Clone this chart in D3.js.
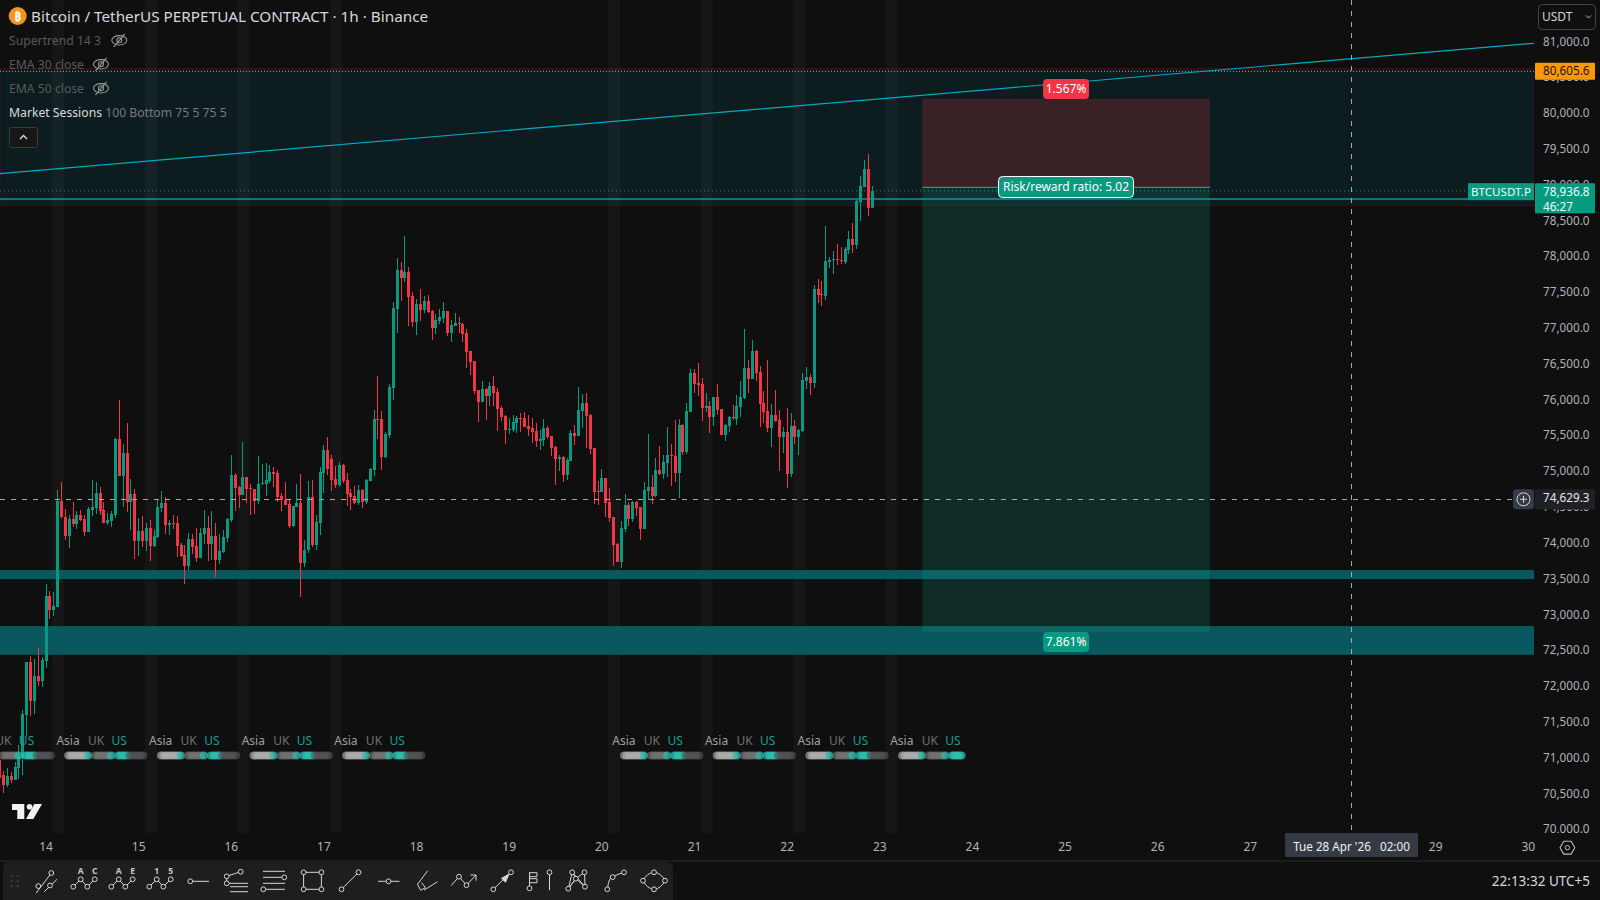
<!DOCTYPE html>
<html>
<head>
<meta charset="utf-8">
<title>BTCUSDT.P 1h</title>
<script src="https://cdn.jsdelivr.net/npm/d3@7"></script>
<style>
  html, body { margin: 0; padding: 0; background: #0f0f0f; overflow: hidden; }
  svg { display: block; }
  text { font-family: "Noto Sans", sans-serif; }
</style>
</head>
<body>
<svg id="chart" width="1600" height="900"></svg>
<script>
// hourly candles, first one is 13 Apr 12:00
const firstBar = Date.UTC(2026, 3, 13, 12)

const opens = [
  70988,70778,70639,70765,70709,70872,71011,71616,72357,71817,72161,72091,72375,73278,73083,73129,
  74605,74381,74116,74353,74283,74409,74353,74172,74479,74507,74716,74479,74297,74325,74409,75470,74954,75275,74591,74702,74046,74186,74046,74227,73976,74102,74507,74577,74269,74297,74297,73990,
  73850,73697,74074,73976,73808,74144,74227,74004,74116,73781,73892,74088,74339,74968,74800,74688,74940,74786,74772,74605,74842,74842,74884,75009,74996,74674,74618,74563,74255,74521,
  74577,73739,73920,74660,73990,74297,74996,75317,75191,74912,74828,75107,74898,74716,74674,74577,74758,74591,74884,75037,
  75750,75750,75219,75526,76183,77286,77830,77719,77802,77467,77104,77356,77272,77397,77258,77020,77123,77160,77258,76951,77048,77090,77076,76951,76699,76560,76155,75987,76169,76071,76210,76127,75903,75792,75596,75596,75694,75764,75764,75652,75624,75582,75442,75456,75624,75512,75359,75191,75219,74968,75163,75554,75512,75861,
  75973,75806,75345,74744,74730,74926,74591,74381,74004,73753,74214,74549,74353,74591,74521,74214,74744,74800,74674,75038,74982,75135,75247,75233,74996,75666,75289,75848,76392,76253,76239,75903,75931,75778,76057,75889,75526,75652,75778,75750,75917,76043,76462,76308,76699,76406,75973,75862,75624,75806,75736,75498,75568,74982,75652,75498,75582,76280,76336,76253,77565,77495,77467,77942,77970,77984,77970,77942,78110,78263,78180,78780,78990,79241,78696
]
const closes = [
  70732,70639,70765,70709,70886,71044,71630,72357,71817,72161,72091,72384,73278,73083,73139,74605,
  74381,74116,74353,74283,74409,74339,74172,74493,74521,74716,74465,74297,74339,74423,75470,74954,75275,74591,74702,74046,74186,74046,74227,73976,74116,74521,74577,74269,74297,74283,73976,73836,
  73697,74074,73962,73808,74158,74227,74004,74116,73781,73906,74102,74353,74968,74786,74688,74940,74772,74772,74605,74842,74856,74898,75009,74982,74660,74618,74549,74255,74535,74577,
  73739,73920,74660,73990,74311,75009,75317,75051,74898,74828,75107,74884,74702,74660,74577,74758,74591,74898,75051,75750,
  75736,75219,75540,76196,77300,77830,77719,77802,77453,77104,77356,77272,77397,77244,77020,77132,77174,77258,76951,77062,77090,77076,76937,76685,76546,76141,75987,76169,76071,76210,76113,75889,75778,75596,75610,75708,75764,75750,75638,75610,75568,75442,75470,75624,75498,75345,75191,75219,74968,75177,75554,75512,75875,75973,
  75792,75331,74730,74730,74926,74577,74367,73990,73753,74228,74549,74353,74591,74507,74214,74758,74800,74674,75038,74982,75149,75247,75233,74996,75666,75289,75862,76392,76239,76225,75903,75931,75778,76057,75875,75526,75666,75778,75764,75931,76057,76462,76308,76699,76392,75959,75848,75624,75806,75722,75498,75568,74982,75652,75498,75596,76294,76336,76253,77565,77481,77481,77956,77970,77984,77970,77956,78124,78263,78180,78794,79004,79241,78696,78936.8
]
const highs = [
  70988,70834,70872,70825,70965,71197,71686,72357,72440,72398,72547,72422,73446,73348,73329,74758,
  74870,74493,74409,74591,74465,74479,74409,74521,74898,74870,74800,74591,74437,74465,75484,76015,75400,75694,74912,74772,74367,74395,74297,74339,74199,74618,74744,74660,74339,74409,74395,74018,
  73990,74158,74144,74227,74227,74479,74395,74465,74297,74144,74199,74367,75247,74996,74814,75428,74940,74842,74772,75233,75121,75135,75107,75079,75037,74716,74870,74618,74535,74842,
  74982,74060,74884,74898,74409,75079,75387,75498,75247,75093,75149,75121,74996,74772,74814,74828,74772,74912,75065,75875,
  76350,75861,75568,76238,77384,77998,77942,78305,77872,77523,77425,77565,77467,77481,77272,77216,77286,77384,77258,77132,77230,77174,77090,77006,76699,76560,76155,76280,76183,76266,76350,76183,75931,75805,75764,75805,75792,75833,75847,75805,75764,75694,75596,75750,75652,75512,75373,75247,75233,75205,75596,75666,76196,76099,
  76113,75820,75345,74884,75051,74926,74786,74381,74018,74325,74702,74591,74605,74605,74521,74870,75540,74968,75205,75373,75247,75638,75401,75736,75750,75680,75973,76448,76448,76532,76322,76113,76001,76057,76239,75889,75680,75792,75945,76085,76280,77007,76574,76853,76713,76490,76141,76574,75959,76155,75875,75638,75903,75834,75736,75610,76392,76476,76378,77621,77705,77677,78445,78012,78096,78194,78152,78152,78375,78487,78808,79143,79367,79450,79004
]
const lows = [
  70662,70532,70616,70662,70709,70718,70779,71328,71607,71630,72026,72012,72268,72957,73004,73129,
  74367,74060,73948,74241,74213,74325,74116,74172,74395,74423,74409,74297,74269,74241,74367,74954,74521,74451,74199,73794,73836,73962,73906,73767,73962,74088,74451,74144,74130,74213,73822,73822,
  73445,73641,73864,73753,73808,74004,73767,73781,73543,73725,73878,74032,74311,74465,74507,74688,74577,74409,74423,74563,74828,74674,74856,74800,74591,74465,74549,74227,74241,74521,
  73264,73687,73874,73967,73920,74130,74716,74968,74744,74786,74800,74856,74535,74479,74563,74549,74507,74563,74884,74954,
  75470,75037,75205,75484,76015,76951,77397,77663,77048,77034,76923,77118,77230,77230,76853,76937,77076,77090,76909,76825,77048,76951,76825,76462,76364,76099,75708,75987,75736,75931,75931,75582,75722,75400,75540,75568,75554,75568,75638,75512,75414,75359,75317,75373,75470,75233,74828,75023,74870,74898,75163,75387,75512,75624,
  75345,75261,74563,74549,74730,74381,74311,73697,73753,73669,74172,74255,74311,74395,74060,74214,74619,74563,74661,74968,74912,74940,74814,74870,74646,75247,75261,75848,76113,76071,75722,75848,75554,75652,75806,75526,75443,75568,75736,75666,75778,76029,76113,76308,76280,75638,75694,75568,75359,75708,75024,75275,74786,74940,75401,75247,75568,76169,76085,76183,77370,77328,77412,77858,77775,77900,77914,77914,78054,78068,78124,78515,78990,78585,78696
]

const priceTicks = d3.range(70000, 81001, 500)
const dayTicks = d3.range(14, 31).map(d => new Date(Date.UTC(2026, 3, d)))
const sessionDays = [13, 14, 15, 16, 17, 20, 21, 22, 23]
const stripeDays = [14, 15, 16, 17, 20, 21, 22, 23]

const lastPrice = 78936.8
const alertPrice = 80605.6
const crossPrice = 74629.3
const crossTime = new Date(Date.UTC(2026, 3, 28, 2))

// drawn zones, price levels
const topZone = [78730, 80645]
const midLine = 78823
const lowerBands = [[73515, 73641], [72458, 72859]]
const trendPrices = [79178, 81000]
const trendTimes = [new Date(firstBar), new Date(Date.UTC(2026, 3, 30, 2))]

// long position tool
const entry = 78986, stop = 80224, target = 72777
const toolTimes = [new Date(Date.UTC(2026, 3, 23, 11)), new Date(Date.UTC(2026, 3, 26, 13, 30))]

const upColor = '#089981'
const downColor = '#f23645'
const axisText = '#b0b3b8'
const plotRight = 1534
const plotBottom = 833

const svg = d3.select('#chart')
const x = d3.scaleUtc()
  .domain([dayTicks[0], dayTicks[dayTicks.length - 1]])
  .range([46, 1528.3])
const y = d3.scaleLinear().domain([70000, 81000]).range([830.8, 43.1])
const hour = 3600 * 1000
const dayAt = d => new Date(Date.UTC(2026, 3, d))

const bars = opens.map((o, i) => ({
  t: new Date(firstBar + i * hour), o, c: closes[i], h: highs[i], l: lows[i]
}))

const defs = svg.append('defs')
defs.append('clipPath').attr('id', 'plot').append('rect')
  .attr('width', plotRight).attr('height', plotBottom)
defs.append('clipPath').attr('id', 'pricePane').append('rect')
  .attr('x', plotRight).attr('width', 66).attr('height', plotBottom)

const plot = svg.append('g').attr('clip-path', 'url(#plot)')

// session stripes
plot.append('g').selectAll('rect').data(stripeDays).enter().append('rect')
  .attr('x', d => x(new Date(dayAt(d).getTime() + 1.6 * hour)))
  .attr('width', 12)
  .attr('y', 0).attr('height', plotBottom)
  .attr('fill', 'rgba(255,255,255,0.03)')

// big zone at the top
plot.append('rect')
  .attr('x', 0).attr('width', plotRight)
  .attr('y', y(topZone[1])).attr('height', y(topZone[0]) - y(topZone[1]))
  .attr('fill', 'rgba(0,188,212,0.08)')
  .attr('stroke', 'rgba(130,20,30,0.3)')

// teal bands
plot.append('g').selectAll('rect').data(lowerBands).enter().append('rect')
  .attr('x', 0).attr('width', plotRight)
  .attr('y', d => y(d[1]))
  .attr('height', d => y(d[0]) - y(d[1]))
  .attr('fill', '#0a585f')

// position tool
const toolX = x(toolTimes[0])
const toolW = x(toolTimes[1]) - toolX
plot.append('rect').attr('x', toolX).attr('width', toolW)
  .attr('y', y(stop)).attr('height', y(entry) - y(stop))
  .attr('fill', 'rgba(242,54,69,0.2)')
plot.append('rect').attr('x', toolX).attr('width', toolW)
  .attr('y', y(entry)).attr('height', y(target) - y(entry))
  .attr('fill', 'rgba(8,153,129,0.2)')
plot.append('line').attr('x1', toolX).attr('x2', toolX + toolW)
  .attr('y1', y(entry)).attr('y2', y(entry))
  .attr('stroke', '#6f8f8a')

// lines across the chart
plot.append('line').attr('x1', 0).attr('x2', plotRight)
  .attr('y1', y(midLine)).attr('y2', y(midLine))
  .attr('stroke', '#1c8c9e').attr('stroke-width', 1.5)
plot.append('line').attr('x1', 0).attr('x2', plotRight)
  .attr('y1', y(lastPrice)).attr('y2', y(lastPrice))
  .attr('stroke', upColor).attr('stroke-dasharray', '1 3')
plot.append('line').attr('x1', 0).attr('x2', plotRight)
  .attr('y1', y(alertPrice)).attr('y2', y(alertPrice))
  .attr('stroke', '#e0a21b').attr('stroke-dasharray', '1 2')
plot.append('line')
  .attr('x1', x(trendTimes[0])).attr('x2', x(trendTimes[1]))
  .attr('y1', y(trendPrices[0])).attr('y2', y(trendPrices[1]))
  .attr('stroke', '#00acc1').attr('stroke-width', 1.2)

// candles
const candle = plot.append('g').attr('shape-rendering', 'crispEdges')
  .selectAll('g').data(bars).enter().append('g')
  .attr('fill', d => d.c >= d.o ? upColor : downColor)
candle.append('rect')
  .attr('x', d => Math.floor(x(d.t)))
  .attr('width', 1)
  .attr('y', d => y(d.h))
  .attr('height', d => y(d.l) - y(d.h))
candle.append('rect')
  .attr('x', d => Math.floor(x(d.t)) - 1)
  .attr('width', 3)
  .attr('y', d => y(Math.max(d.o, d.c)))
  .attr('height', d => Math.max(1, Math.abs(y(d.o) - y(d.c))))

// market sessions row
const sessions = [
  { name: 'Asia', start: 4.85, len: 7, color: '#b4b4b4', text: '#a0a0a0', labelAt: 3.3 },
  { name: 'UK', start: 11.85, len: 6, color: '#787878', text: '#707070', labelAt: 4.3 },
  { name: 'US', start: 17.85, len: 8.3, color: '#55575b', text: '#1f9d92', labelAt: 4.3 }
]
const sessionY = 755.5
const sessionEnd = new Date(Date.UTC(2026, 3, 23, 22, 5))
const rowG = plot.append('g')
sessionDays.forEach(day => {
  const base = dayAt(day).getTime()
  sessions.forEach(s => {
    const from = base + s.start * hour
    const to = Math.min(from + s.len * hour, sessionEnd.getTime())
    const x0 = x(new Date(from)) + 3.6
    const x1 = x(new Date(to)) - 3.6
    const n = Math.ceil((x1 - x0) / 2.8)
    const dots = d3.range(n + 1).map(i => x0 + i * (x1 - x0) / n)
    const teal = s.name === 'US' ? d => d < x0 + 10 || day === 23 : d => d >= x1 - 1.5
    rowG.append('g').selectAll('circle').data(dots).enter().append('circle')
      .attr('cx', d => d).attr('cy', sessionY).attr('r', 4.1)
      .attr('fill', d => teal(d) ? '#2cc4b2' : s.color)
      .attr('fill-opacity', d => teal(d) ? 0.72 : 0.62)
    rowG.append('text')
      .attr('x', x(new Date(from)) + s.labelAt)
      .attr('y', 745)
      .attr('text-anchor', 'middle')
      .attr('font-size', 12)
      .attr('fill', s.text)
      .text(s.name)
  })
})

// tradingview mark
const logo = plot.append('g').attr('fill', '#f2f2f2')
logo.append('path').attr('d', 'M12 804H24.3V819H17.3V810H12Z')
logo.append('circle').attr('cx', 29.5).attr('cy', 806.8).attr('r', 2.8)
logo.append('path').attr('d', 'M34.3 804H42L33.3 819H26Z')

// crosshair
const crossG = svg.append('g').attr('stroke', '#a8a8a8').attr('stroke-dasharray', '5 6')
  .attr('shape-rendering', 'crispEdges')
crossG.append('line').attr('x1', 0).attr('x2', plotRight)
  .attr('y1', y(crossPrice)).attr('y2', y(crossPrice))
crossG.append('line').attr('x1', x(crossTime) + 0.5).attr('x2', x(crossTime) + 0.5)
  .attr('y1', 0).attr('y2', plotBottom)

// tool labels
function badge(cx, cy, w, h, fill, label, border) {
  const g = svg.append('g')
  g.append('rect').attr('x', cx - w / 2).attr('y', cy - h / 2)
    .attr('width', w).attr('height', h).attr('rx', 4)
    .attr('fill', fill).attr('stroke', border || 'none')
  g.append('text').attr('x', cx).attr('y', cy + 4.2)
    .attr('text-anchor', 'middle').attr('font-size', 12)
    .attr('fill', '#fff').text(label)
}
const toolMid = toolX + toolW / 2
badge(toolMid, 89, 46, 20, downColor, '1.567%')
badge(toolMid, 642, 46, 20, upColor, '7.861%')
badge(toolMid, 187, 135, 21, upColor, 'Risk/reward ratio: 5.02', '#fff')

// price axis
const priceAxis = d3.axisRight(y)
  .tickValues(priceTicks)
  .tickFormat(d3.format(',.1f'))
  .tickSize(0)
  .offset(0)
const pAxisG = svg.append('g').attr('clip-path', 'url(#pricePane)')
  .append('g')
  .attr('transform', `translate(${plotRight},0)`)
  .call(priceAxis)
pAxisG.select('.domain').remove()
pAxisG.selectAll('text')
  .attr('x', 55.5).attr('y', -1.2)
  .attr('text-anchor', 'end')
  .attr('font-size', 11.7)
  .attr('font-family', '"Noto Sans", sans-serif')
  .attr('fill', axisText)

// time axis
const timeAxis = d3.axisBottom(x)
  .tickValues(dayTicks)
  .tickFormat(d3.utcFormat('%-d'))
  .tickSize(0)
  .offset(0)
const tAxisG = svg.append('g')
  .attr('transform', `translate(0,${plotBottom})`)
  .call(timeAxis)
tAxisG.select('.domain').remove()
tAxisG.selectAll('text')
  .attr('y', 18).attr('dy', 0)
  .attr('font-size', 12)
  .attr('font-family', '"Noto Sans", sans-serif')
  .attr('fill', axisText)

// price labels on the right
function priceTag(yTop, h, fill, lines, color) {
  svg.append('rect').attr('x', 1535).attr('y', yTop)
    .attr('width', 60).attr('height', h).attr('fill', fill).attr('rx', 1)
  lines.forEach((t, i) => {
    svg.append('text').attr('x', i === 0 ? 1589.5 : 1543).attr('y', yTop + 12.5 + i * 15)
      .attr('text-anchor', i === 0 ? 'end' : 'start')
      .attr('font-size', 11.7).attr('fill', color).text(t)
  })
}
priceTag(y(alertPrice) - 8.5, 17, '#ff9800', [d3.format(',.1f')(alertPrice)], '#1a1206')
priceTag(y(lastPrice) - 7.7, 30, upColor, [d3.format(',.1f')(lastPrice), '46:27'], '#eafff9')
svg.append('rect').attr('x', 1468).attr('y', y(lastPrice) - 7.7).attr('width', 66).attr('height', 17).attr('fill', upColor)
svg.append('text').attr('x', 1501).attr('y', y(lastPrice) + 4.8).attr('text-anchor', 'middle')
  .attr('font-size', 11.6).attr('fill', '#eafff9').text('BTCUSDT.P')
priceTag(y(crossPrice) - 10, 20, '#1f2126', [d3.format(',.1f')(crossPrice)], '#e8e8e8')

// plus button next to the crosshair price
const plusY = y(crossPrice)
svg.append('rect').attr('x', 1513).attr('y', plusY - 10).attr('width', 21).attr('height', 20)
  .attr('rx', 3).attr('fill', '#363a45')
svg.append('circle').attr('cx', 1523.5).attr('cy', plusY).attr('r', 6.5)
  .attr('fill', 'none').attr('stroke', '#d8d8d8')
svg.append('path').attr('d', `M1520 ${plusY}h7M1523.5 ${plusY - 3.5}v7`).attr('stroke', '#d8d8d8')

// currency button
svg.append('rect').attr('x', 1538.5).attr('y', 4.5).attr('width', 57).attr('height', 25)
  .attr('rx', 4).attr('fill', 'none').attr('stroke', '#444')
svg.append('text').attr('x', 1542).attr('y', 21).attr('font-size', 12).attr('fill', '#d5d5d5').text('USDT')
svg.append('path').attr('d', 'M1586 15.5l2.5 2.5 2.5-2.5').attr('fill', 'none').attr('stroke', '#bbb')

// crosshair date label
svg.append('rect').attr('x', 1285).attr('y', plotBottom).attr('width', 133).attr('height', 24)
  .attr('rx', 1).attr('fill', '#363a45')
svg.append('text').attr('x', 1351.5).attr('y', 851).attr('text-anchor', 'middle')
  .attr('font-size', 11.7).attr('fill', '#f0f0f0').attr('xml:space', 'preserve')
  .text("Tue 28 Apr '26   02:00")

// settings hexagon
svg.append('path').attr('d', 'M1560 847.7l3.7-6.4h7.4l3.7 6.4-3.7 6.4h-7.4Z')
  .attr('fill', 'none').attr('stroke', '#bbb').attr('stroke-width', 1.1)
svg.append('circle').attr('cx', 1567.4).attr('cy', 847.7).attr('r', 2.2)
  .attr('fill', 'none').attr('stroke', '#bbb')

// legend
svg.append('circle').attr('cx', 17.7).attr('cy', 16).attr('r', 9).attr('fill', '#f7931a')
svg.append('text').attr('x', 17.7).attr('y', 20.5).attr('text-anchor', 'middle')
  .attr('font-size', 12).attr('font-weight', 700).attr('fill', '#fff').text('₿')
svg.append('text').attr('x', 31).attr('y', 21.5).attr('font-size', 15.3)
  .attr('fill', '#d6d8de').text('Bitcoin / TetherUS PERPETUAL CONTRACT · 1h · Binance')

const legendRows = [
  { label: 'Supertrend 14 3', y: 45, eye: 119.3 },
  { label: 'EMA 30 close', y: 69, eye: 101 },
  { label: 'EMA 50 close', y: 93, eye: 101 }
]
legendRows.forEach(r => {
  svg.append('text').attr('x', 9).attr('y', r.y).attr('font-size', 12.2).attr('fill', '#5a5a5a').text(r.label)
  const eye = svg.append('g').attr('transform', `translate(${r.eye},${r.y - 4.7})`)
    .attr('fill', 'none').attr('stroke', '#999').attr('stroke-width', 1.1)
  eye.append('ellipse').attr('rx', 7.5).attr('ry', 4.7)
  eye.append('circle').attr('r', 2.5)
  eye.append('line').attr('x1', -5.5).attr('y1', 6.5).attr('x2', 5.5).attr('y2', -6.5)
})
const sessionLegend = svg.append('text').attr('x', 9).attr('y', 117).attr('font-size', 12.2)
sessionLegend.append('tspan').attr('fill', '#dcdcdc').text('Market Sessions')
sessionLegend.append('tspan').attr('fill', '#7a7a7a').text(' 100 Bottom 75 5 75 5')
svg.append('rect').attr('x', 9.5).attr('y', 127.5).attr('width', 28).attr('height', 20)
  .attr('rx', 2).attr('fill', '#171717').attr('stroke', '#3a3a3a')
svg.append('path').attr('d', 'M20 139l3.5-3.5 3.5 3.5').attr('fill', 'none').attr('stroke', '#ddd').attr('stroke-width', 1.3)

// bottom toolbar
svg.append('line').attr('x1', 0).attr('x2', 1600).attr('y1', 861).attr('y2', 861).attr('stroke', '#2b2b2b')
svg.append('rect').attr('x', 3).attr('y', 862).attr('width', 670).attr('height', 44)
  .attr('rx', 6).attr('fill', '#1e1e1e')
svg.append('g').attr('fill', '#444').selectAll('circle')
  .data(d3.cross([11.7, 17.7], [876, 881, 886])).enter().append('circle')
  .attr('cx', d => d[0]).attr('cy', d => d[1]).attr('r', 1)

const zig = [[-10.7, 6], [-3.3, -1.4], [3.3, 6], [10.7, -1.4]]
const toolIcons = [
  { cx: 44.6, paths: ['M-8.5 12.5L6.7 -7.7', 'M-0.3 11L12.4 -1.4'], dots: [[-6.3, 5.4], [6.7, -7.7], [5.4, 4.8]] },
  { cx: 84, paths: [zig], dots: zig, tags: [['A', -3.3], ['C', 10.7]] },
  { cx: 122, paths: [zig], dots: zig, tags: [['A', -3.3], ['E', 10.7]] },
  { cx: 160, paths: [zig], dots: zig, tags: [['1', -3.3], ['5', 10.7]] },
  { cx: 198, paths: ['M-7.7 0.6H11'], dots: [[-7.7, 0.6]] },
  { cx: 237, paths: ['M-10.3 -4.4L3.7 -9', 'M-10.3 2.6H11', 'M-7 6H11', 'M-7 11H11', 'M-10.3 -4.4V2.6'], dots: [[-10.3, -4.4], [3.7, -9], [-10.3, 2.6]] },
  { cx: 274, paths: ['M-11 -9.4H11', 'M-11 -3.4H10', 'M-11 2.6H11', 'M-9 8.6H11'], dots: [[10.3, -3.4], [-10.7, 8.6]] },
  { cx: 312.5, paths: ['M-8.9 -8.4H8.9V8.6H-8.9Z'], dots: [[-8.9, -8.4], [8.9, -8.4], [-8.9, 8.6], [8.9, 8.6]] },
  { cx: 350, paths: ['M-8.5 8.6L8.5 -8.4'], dots: [[-8.5, 8.6], [8.5, -8.4]] },
  { cx: 388.5, paths: ['M-10.5 0.6H11'], dots: [[0, 0.6]] },
  { cx: 426.5, paths: ['M1.2 -10L-9 3.5L-6 9.5L-1 7L-5 2', 'M11 1L-2.5 9.5'], dots: [] },
  { cx: 463.5, paths: ['M-12.5 5L-4.5 -4L3 4.5L12.5 -5.7', 'M7 -5.7H12.5V0'], dots: [[-4.5, -4], [3, 4.5]] },
  { cx: 502, paths: ['M-8.7 8.6L9 -8.4'], dots: [[-8.7, 8.6], [9, -8.4]], arrow: true },
  { cx: 540, paths: ['M-10.5 7.5V-8.5', 'M-10.5 -8H-3V-4H-10.5', 'M-10.5 -2H-3V2H-10.5', 'M9.5 -8.4V9.5'], dots: [[-10.5, 7.6], [9.5, -8.4]] },
  { cx: 578, paths: ['M-5.8 -8.4L-9.7 8L-2.2 -2L-5.8 -8.4L7 6L6.5 -8.4L-2.2 -2L-9.7 8', 'M-2.2 -2L7 6'], dots: [[-5.8, -8.4], [6.5, -8.4], [-2.2, -2], [-9.7, 8], [7, 6]] },
  { cx: 616, paths: ['M-8.7 8.6Q-7 -4 -3.3 -3.6Q0 -6 8 -8.4'], dots: [[-8.7, 8.6], [-3.3, -3.6], [8, -8.4]] },
  { cx: 654, paths: ['M0 -8.4Q7 -8 11 0Q7 8 0 8.6Q-7 8 -11 0Q-7 -8 0 -8.4Z'], dots: [[0, -8.4], [11, 0], [0, 8.6], [-11, 0]] }
]
const toolbar = svg.append('g').selectAll('g').data(toolIcons).enter().append('g')
  .attr('transform', d => `translate(${d.cx},880.7)`)
  .attr('fill', 'none').attr('stroke', '#d6d6d6').attr('stroke-width', 1)
toolbar.each(function(icon) {
  const g = d3.select(this)
  icon.paths.forEach(p => {
    g.append('path').attr('d', typeof p === 'string' ? p : d3.line()(p))
  })
  icon.dots.forEach(d => {
    g.append('circle').attr('cx', d[0]).attr('cy', d[1]).attr('r', 2.4).attr('fill', '#1e1e1e')
  })
  ;(icon.tags || []).forEach(t => {
    g.append('text').attr('x', t[1]).attr('y', -7).attr('text-anchor', 'middle')
      .attr('font-size', 8.5).attr('font-weight', 700).attr('fill', '#c8c8c8').attr('stroke', 'none').text(t[0])
  })
  if (icon.arrow) g.append('path').attr('d', 'M7 -6.5L-0.5 -2.5L3.5 1.5Z').attr('fill', '#d6d6d6')
})

// clock
svg.append('text').attr('x', 1590).attr('y', 885.5).attr('text-anchor', 'end')
  .attr('font-size', 13.5).attr('fill', '#d6d8de').text('22:13:32 UTC+5')
</script>
</body>
</html>
